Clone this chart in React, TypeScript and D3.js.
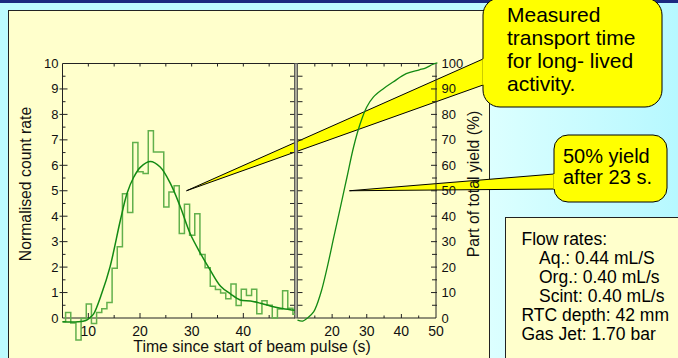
import { useEffect, useRef } from "react";
import * as d3 from "d3";

// histogram of the normalised count rate, 1 s bins starting at 4.6 s
const histStart = 4.6;
const histBin = 1;
const histCounts = [
    -0.15, 0.22, -0.2, -0.86, -0.02, 0.55, -0.22, 0.22, 0.36, 0.61,
    1.95, 2.8, 4.88, 4.15, 6.9, 5.75, 5.68, 7.36, 6.52, 6.52,
    4.36, 4.95, 5.2, 3.32, 4.47, 3.25, 4.1, 2.5, 1.97, 1.25,
    1.12, 0.98, 0.76, 1.34, 0.49, 1.13, 0.88, 1.13, 0.17, 0.68,
    0.5, 0.0, 0.35, 1.07, 0.38, 0.15,
];

// smoothed fit through the histogram
const fitTime = [ 5, 8, 9.5, 10.4, 11, 12.6, 14.2, 16.2, 17.5, 18.8, 20.1, 22, 23.9, 25.9, 27.8, 29.7, 31.7, 33.6, 35.6, 37.5, 39.4, 41.4, 43.3, 45.2, 47.2, 49.6, 50 ];
const fitRate = [ -0.15, -0.15, -0.1, 0.03, 0.15, 0.97, 2.01, 3.84, 4.9, 5.54, 5.93, 6.15, 5.93, 5.28, 4.37, 3.32, 2.54, 1.88, 1.25, 0.95, 0.71, 0.67, 0.58, 0.47, 0.38, 0.31, 0.3 ];

// cumulative part of total yield (%)
const cumTime = [ 10, 11.5, 12.9, 14.7, 16.7, 18.6, 20.5, 22.4, 24.3, 26.2, 28.1, 30, 31.9, 34.7, 37.6, 41.4, 45.2, 47.1, 49, 50.4 ];
const cumYield = [ -0.8, -1.2, 0, 2.5, 9.7, 20, 31.9, 43.6, 55.4, 67.2, 76.3, 82.9, 86.8, 90, 92.7, 96, 97.5, 98.3, 99.6, 100.2 ];

const leftXTicks = [ 10, 20, 30, 40 ];
const leftYTicks = [ 0, 1, 2, 3, 4, 5, 6, 7, 8, 9, 10 ];
const rightXTicks = [ 20, 30, 40, 50 ];
const rightYTicks = [ 0, 10, 20, 30, 40, 50, 60, 70, 80, 90, 100 ];

const transportText = [ "Measured", "transport time", "for long- lived", "activity." ];
const yieldText = [ "50% yield", "after 23 s." ];
const flowText = [ "Flow rates:", "Aq.: 0.44 mL/S", "Org.: 0.40 mL/s", "Scint: 0.40 mL/s", "RTC depth: 42 mm", "Gas Jet: 1.70 bar" ];
const flowIndent = [ 0, 1, 1, 1, 0, 0 ];

const W = 678;
const H = 358;
const FONT = "'Liberation Sans', Arial, Helvetica, sans-serif";
const INK = "#222";

export default function App ()
{
    const svgRef = useRef<SVGSVGElement>( null );

    useEffect( () =>
    {
        if ( !svgRef.current ) return;
        const svg = d3.select( svgRef.current );
        svg.selectAll( "*" ).remove();

        const top = 63.5, bottom = 318;
        const xL = d3.scaleLinear().domain( [ 5, 50 ] ).range( [ 62.5, 295 ] );
        const yL = d3.scaleLinear().domain( [ 0, 10 ] ).range( [ bottom, top ] );
        const xR = d3.scaleLinear().domain( [ 10, 50 ] ).range( [ 297.5, 436 ] );
        const yR = d3.scaleLinear().domain( [ 0, 100 ] ).range( [ bottom, top ] );

        const defs = svg.append( "defs" );
        const grad = defs.append( "linearGradient" ).attr( "id", "sideGrad" )
            .attr( "x1", "0%" ).attr( "y1", "0%" ).attr( "x2", "100%" ).attr( "y2", "0%" );
        grad.append( "stop" ).attr( "offset", "0%" ).attr( "stop-color", "#dcffff" );
        grad.append( "stop" ).attr( "offset", "100%" ).attr( "stop-color", "#b6f8ff" );
        defs.append( "clipPath" ).attr( "id", "leftClip" ).append( "rect" )
            .attr( "x", xL( 5 ) ).attr( "y", 0 ).attr( "width", xL( 50 ) - xL( 5 ) ).attr( "height", H );

        // Background and panel
        svg.append( "rect" ).attr( "width", W ).attr( "height", H ).attr( "fill", "#bdfbff" );
        svg.append( "rect" ).attr( "x", 490 ).attr( "y", 0 ).attr( "width", W - 490 ).attr( "height", H ).attr( "fill", "url(#sideGrad)" );
        svg.append( "rect" ).attr( "width", W ).attr( "height", 3 ).attr( "fill", "#1b2a80" );
        svg.append( "rect" ).attr( "x", 8.5 ).attr( "y", 10.5 ).attr( "width", 481 ).attr( "height", H ).attr( "fill", "#ffffcc" ).attr( "stroke", INK );

        // Callout geometry (tips anchored in data space)
        const callouts = [
            { box: { x: 483, y: -2, w: 179, h: 109, r: 17 }, tip: [ xL( 29 ), yL( 5 ) ], ys: [ 59, 85 ] },
            { box: { x: 554, y: 135, w: 113, h: 67, r: 14 }, tip: [ xR( 25 ), yR( 50 ) ], ys: [ 174, 189 ] },
        ];
        const wedgePoly = ( c: any, ext: number ) =>
        {
            const [ tx, ty ] = c.tip;
            const pts = c.ys.map( ( y: number ) =>
            {
                const s = ( y - ty ) / ( c.box.x - tx );
                return [ c.box.x + ext, y + s * ext ];
            } );
            return [ [ tx, ty ], pts[ 0 ], pts[ 1 ] ];
        };

        // Wedges under the plot
        const wedges = svg.append( "g" );
        callouts.forEach( ( c ) =>
        {
            wedges.append( "polygon" ).attr( "points", wedgePoly( c, 10 ).join( " " ) ).attr( "fill", "#ffff00" );
            c.ys.forEach( ( y ) =>
            {
                wedges.append( "line" ).attr( "x1", c.tip[ 0 ] ).attr( "y1", c.tip[ 1 ] ).attr( "x2", c.box.x ).attr( "y2", y )
                    .attr( "stroke", "#000" ).attr( "stroke-width", 1 );
            } );
        } );

        const frame = svg.append( "g" ).attr( "stroke", INK ).attr( "stroke-width", 1 );
        const tick = ( x1: number, y1: number, x2: number, y2: number ) =>
            frame.append( "line" ).attr( "x1", x1 ).attr( "y1", y1 ).attr( "x2", x2 ).attr( "y2", y2 );

        // Left plot frame
        tick( xL( 5 ), top, xL( 50 ), top );
        tick( xL( 5 ), bottom, xL( 50 ), bottom );
        tick( xL( 5 ), top, xL( 5 ), bottom );
        // middle double border
        svg.append( "rect" ).attr( "x", xL( 50 ) - 0.5 ).attr( "y", top ).attr( "width", xR( 10 ) - xL( 50 ) + 0.5 ).attr( "height", bottom - top )
            .attr( "fill", "#a8a898" ).attr( "stroke", "#444" ).attr( "stroke-width", 0.8 );
        // Right plot frame
        tick( xR( 10 ), top, xR( 50 ), top );
        tick( xR( 10 ), bottom, xR( 50 ), bottom );
        tick( xR( 50 ), top, xR( 50 ), bottom );

        // Left plot ticks
        d3.range( 10, 50, 5 ).forEach( ( t ) =>
        {
            const major = t % 10 === 0;
            tick( xL( t ), top, xL( t ), top + 3 );
            tick( xL( t ), bottom, xL( t ), bottom - ( major ? 5 : 3 ) );
        } );
        d3.range( 0.5, 10, 0.5 ).forEach( ( v ) =>
        {
            const major = v % 1 === 0;
            tick( xL( 5 ) - ( major ? 3 : 0 ), yL( v ), xL( 5 ) + ( major ? 5 : 3 ), yL( v ) );
            tick( xL( 50 ) - 5, yL( v ), xR( 10 ) + 5, yL( v ) );
        } );
        // Right plot ticks
        d3.range( 15, 50, 5 ).forEach( ( t ) =>
        {
            const major = t % 10 === 0;
            tick( xR( t ), top, xR( t ), top + 3 );
            tick( xR( t ), bottom, xR( t ), bottom - ( major ? 4 : 2.5 ) );
        } );
        d3.range( 5, 100, 5 ).forEach( ( p ) =>
        {
            const major = p % 10 === 0;
            tick( xR( 50 ) - ( major ? 5 : 4 ), yR( p ), xR( 50 ) + 1, yR( p ) );
        } );

        // Histogram
        const histPts: [ number, number ][] = histCounts.map( ( v, i ) => [ histStart + i * histBin, v ] );
        histPts.push( [ histStart + histCounts.length * histBin, histCounts[ histCounts.length - 1 ] ] );
        const stepGen = d3.line<[ number, number ]>().x( ( d ) => xL( d[ 0 ] ) ).y( ( d ) => yL( d[ 1 ] ) ).curve( d3.curveStepAfter );
        svg.append( "path" ).datum( histPts ).attr( "d", stepGen ).attr( "clip-path", "url(#leftClip)" )
            .attr( "fill", "none" ).attr( "stroke", "#62b04c" ).attr( "stroke-width", 1.5 );

        // Fit curve
        const fitGen = d3.line<number>().x( ( d, i ) => xL( fitTime[ i ] ) ).y( ( d ) => yL( d ) ).curve( d3.curveCatmullRom.alpha( 0.5 ) );
        svg.append( "path" ).datum( fitRate ).attr( "d", fitGen )
            .attr( "fill", "none" ).attr( "stroke", "#138a13" ).attr( "stroke-width", 1.5 );

        // Cumulative yield
        const cumGen = d3.line<number>().x( ( d, i ) => xR( cumTime[ i ] ) ).y( ( d ) => yR( d ) ).curve( d3.curveCatmullRom.alpha( 0.5 ) );
        svg.append( "path" ).datum( cumYield ).attr( "d", cumGen )
            .attr( "fill", "none" ).attr( "stroke", "#138a13" ).attr( "stroke-width", 1.3 );

        // Tick labels
        const labels = svg.append( "g" ).attr( "font-family", FONT ).attr( "fill", "#111" );
        leftYTicks.forEach( ( v ) =>
        {
            labels.append( "text" ).attr( "x", 58.5 ).attr( "y", yL( v ) + 4.5 ).attr( "text-anchor", "end" ).attr( "font-size", 13 ).text( v );
        } );
        rightYTicks.forEach( ( p ) =>
        {
            labels.append( "text" ).attr( "x", 441.5 ).attr( "y", yR( p ) + 4.5 ).attr( "text-anchor", "start" ).attr( "font-size", 13 ).text( p );
        } );
        leftXTicks.forEach( ( t ) =>
        {
            labels.append( "text" ).attr( "x", xL( t ) ).attr( "y", 336 ).attr( "text-anchor", "middle" ).attr( "font-size", 14 ).text( t );
        } );
        rightXTicks.forEach( ( t ) =>
        {
            labels.append( "text" ).attr( "x", xR( t ) ).attr( "y", 336 ).attr( "text-anchor", "middle" ).attr( "font-size", 14 ).text( t );
        } );

        // Axis titles
        labels.append( "text" ).attr( "transform", "translate(30.5,184) rotate(-90)" ).attr( "text-anchor", "middle" )
            .attr( "font-size", 15.8 ).text( "Normalised count rate" );
        labels.append( "text" ).attr( "transform", "translate(478.5,184) rotate(-90)" ).attr( "text-anchor", "middle" )
            .attr( "font-size", 15.8 ).text( "Part of total yield (%)" );
        labels.append( "text" ).attr( "x", 252 ).attr( "y", 351.5 ).attr( "text-anchor", "middle" )
            .attr( "font-size", 15.8 ).text( "Time since start of beam pulse (s)" );

        // Callout boxes, with the wedge joined into the border
        callouts.forEach( ( c, k ) =>
        {
            const b = c.box;
            svg.append( "rect" ).attr( "x", b.x ).attr( "y", b.y ).attr( "width", b.w ).attr( "height", b.h ).attr( "rx", b.r )
                .attr( "fill", "#ffff00" ).attr( "stroke", "#000" ).attr( "stroke-width", 1 );
            const cid = `joinClip${ k }`;
            defs.append( "clipPath" ).attr( "id", cid ).append( "rect" )
                .attr( "x", b.x - 0.6 ).attr( "y", 0 ).attr( "width", 12 ).attr( "height", H );
            svg.append( "polygon" ).attr( "points", wedgePoly( c, 10 ).join( " " ) ).attr( "fill", "#ffff00" )
                .attr( "clip-path", `url(#${ cid })` );
        } );

        const ct = svg.append( "g" ).attr( "font-family", FONT ).attr( "fill", "#000" );
        transportText.forEach( ( s, i ) =>
        {
            ct.append( "text" ).attr( "x", 507 ).attr( "y", 22 + i * 23 ).attr( "font-size", 21 ).text( s );
        } );
        yieldText.forEach( ( s, i ) =>
        {
            ct.append( "text" ).attr( "x", 563 ).attr( "y", 162.5 + i * 21 ).attr( "font-size", 20 ).text( s );
        } );

        // Flow-rate box
        svg.append( "rect" ).attr( "x", 505.5 ).attr( "y", 217.5 ).attr( "width", 200 ).attr( "height", 200 )
            .attr( "fill", "#ffffcc" ).attr( "stroke", INK );
        flowText.forEach( ( s, i ) =>
        {
            ct.append( "text" ).attr( "x", 521.5 + flowIndent[ i ] * 17.5 ).attr( "y", 245 + i * 18.9 )
                .attr( "font-size", 17.5 ).text( s );
        } );
        ct.raise();
    }, [] );

    return (
        <svg ref={ svgRef } width={ W } height={ H }
            style={ { position: "absolute", left: 0, top: 0, display: "block" } } />
    );
}
